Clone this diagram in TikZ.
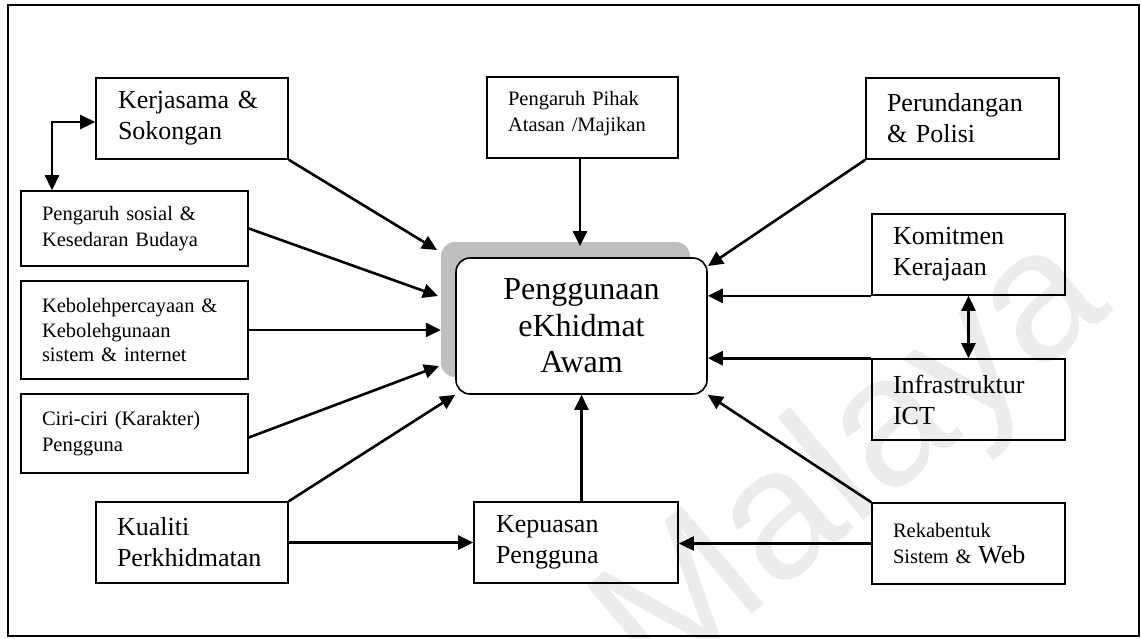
\documentclass[tikz,border=0pt]{standalone}
\usepackage{fontspec}
\setmainfont{Liberation Serif}
\newfontfamily\markfont{Liberation Sans}
\usetikzlibrary{arrows.meta,calc}
\definecolor{shadowgray}{HTML}{BFBFBF}
\definecolor{markgray}{HTML}{ECECEC}
\begin{document}
\begin{tikzpicture}[x=1pt,y=-1pt,
  box/.style={draw, line width=1.6pt, inner sep=0pt, align=left},
  big/.style={font=\fontsize{26}{31}\selectfont},
  small/.style={font=\fontsize{20.5}{26.5}\selectfont},
  arr/.style={line width=2.6pt, -{Triangle[length=15pt,width=14pt]}},
  darr/.style={line width=2.6pt, {Triangle[length=15pt,width=14pt]}-{Triangle[length=15pt,width=14pt]}},
]
\useasboundingbox (0,0) rectangle (1141,638);

% watermark
\node[text=markgray, rotate=40, font=\markfont\fontsize{185}{185}\selectfont] (wm) at (855,465) {Malaya};

% outer frame
\draw[line width=2pt] (8,5) rectangle (1139,636);

% central box with its shadow
\node[fill=shadowgray, rounded corners=14pt, minimum width=249pt, minimum height=135pt, inner sep=0pt] (sh) at (565.5,309.5) {};
\node[draw, fill=white, line width=1.6pt, rounded corners=14pt, minimum width=251pt, minimum height=136pt, inner sep=0pt, align=center, font=\fontsize{32}{36.5}\selectfont] (cb) at (581.5,326) {Penggunaan\\eKhidmat\\Awam};

% factor boxes
\node[box,big,minimum width=192pt,minimum height=81pt,text width=148pt] (kj) at (192,118.5) {Kerjasama \&\\Sokongan};
\node[box,small,minimum width=227pt,minimum height=75pt,text width=185pt] (ps) at (134.5,228.5) {Pengaruh sosial \&\\Kesedaran Budaya};
\node[box,small,minimum width=227pt,minimum height=98pt,text width=185pt,font=\fontsize{20.5}{24.5}\selectfont] (kb) at (134.5,330) {Kebolehpercayaan \&\\Kebolehgunaan\\sistem \& internet};
\node[box,small,minimum width=227pt,minimum height=79pt,text width=185pt] (cc) at (134.5,433.5) {Ciri-ciri (Karakter)\\Pengguna};
\node[box,big,minimum width=192pt,minimum height=81pt,text width=150pt] (kq) at (192,542.5) {Kualiti\\Perkhidmatan};
\node[box,big,minimum width=204pt,minimum height=81pt,text width=160pt] (kp) at (576,542.5) {Kepuasan\\Pengguna};
\node[box,small,minimum width=193pt,minimum height=81pt,text width=151pt] (rk) at (968.5,543.5) {Rekabentuk\\Sistem \& {\fontsize{26}{26.5}\selectfont Web}};
\node[box,small,minimum width=191pt,minimum height=81pt,text width=149pt] (ph) at (582.5,117.5) {Pengaruh Pihak\\Atasan /Majikan\vspace{8pt}};
\node[box,big,minimum width=193pt,minimum height=81pt,text width=151pt] (pr) at (962.5,118.5) {Perundangan\\\& Polisi};
\node[box,big,minimum width=193pt,minimum height=81pt,text width=151pt] (km) at (968.5,254.5) {Komitmen\\Kerajaan};
\node[box,big,minimum width=193pt,minimum height=81pt,text width=151pt] (in) at (968.5,399.5) {Infrastruktur\\ICT};

% arrow end points on the central box
\coordinate (tkj) at (437,250);
\coordinate (tps) at (438,296);
\coordinate (tcc) at (439,366);
\coordinate (tph) at (580,246);
\coordinate (tpr) at (708,266);
\coordinate (elb) at (52,122);

% influences on the central box
\draw[arr] (kj.south east) -- (tkj);
\draw[arr] (ps.east) -- (tps);
\draw[arr] (kb.east) -- (kb.east -| sh.west);
\draw[arr] ($(cc.east)+(0,4)$) -- (tcc);
\draw[arr] (kq.north east) -- (cb.south west);
\draw[arr] (ph.south -| tph) -- (tph);
\draw[arr] (cb.south |- kp.north) -- (cb.south);
\draw[arr] (pr.south west) -- (tpr);
\draw[arr] (km.south west) -- (cb.east |- km.south west);
\draw[arr] (in.north west) -- (cb.east |- in.north west);
\draw[arr] (rk.north west) -- (cb.south east);

% links between factors
\draw[darr] (kj.west |- elb) -- (elb) -- (elb |- ps.north);
\draw[darr] (km.south) -- (in.north);
\draw[arr] (kq.east) -- (kp.west);
\draw[arr] (rk.west) -- (kp.east |- rk.west);
\end{tikzpicture}
\end{document}
